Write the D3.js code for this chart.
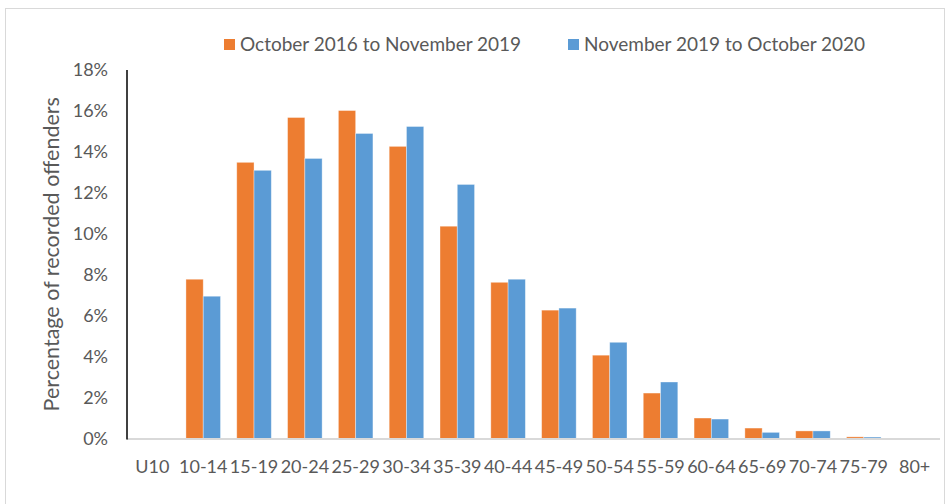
<!DOCTYPE html>
<html>
<head>
<meta charset="utf-8">
<script src="https://cdn.jsdelivr.net/npm/d3@7/dist/d3.min.js"></script>
<style>
  html, body { margin: 0; padding: 0; background: #fff; }
  svg { display: block; }
  text { font-family: "Lato", sans-serif; fill: #595959; }
</style>
</head>
<body>
<svg id="chart" width="951" height="504"></svg>
<script>
const categories = ["U10","10-14","15-19","20-24","25-29","30-34","35-39","40-44","45-49","50-54","55-59","60-64","65-69","70-74","75-79","80+"];
const seriesNames = ["October 2016 to November 2019", "November 2019 to October 2020"];
const series2016to2019 = [0, 7.78, 13.49, 15.68, 16.02, 14.27, 10.37, 7.63, 6.27, 4.07, 2.22, 1.0, 0.51, 0.37, 0.08, 0];
const series2019to2020 = [0, 6.95, 13.10, 13.68, 14.90, 15.24, 12.41, 7.78, 6.37, 4.70, 2.76, 0.95, 0.30, 0.37, 0.07, 0];
const yTicks = [0, 2, 4, 6, 8, 10, 12, 14, 16, 18];
const colors = ["#ED7D31", "#5B9BD5"];

const svg = d3.select("#chart");

// outer frame
svg.append("rect").attr("x", 5.5).attr("y", 8.5).attr("width", 939).attr("height", 500)
  .attr("fill", "none").attr("stroke", "#D9D9D9").attr("stroke-width", 1);

const mLeft = 127, mRight = 940, mTop = 70, mBottom = 438.5;

const x = d3.scaleBand().domain(categories).range([mLeft, mRight]).paddingInner(0.32).paddingOuter(0.16);
const xs = d3.scaleBand().domain([0, 1]).range([0, x.bandwidth()]);
const y = d3.scaleLinear().domain([0, 18]).range([mBottom, mTop]);

const data = categories.map((c, i) => ({ cat: c, vals: [series2016to2019[i], series2019to2020[i]] }));

const groups = svg.append("g").selectAll("g").data(data).join("g")
  .attr("transform", d => `translate(${x(d.cat)},0)`);
groups.selectAll("rect").data(d => d.vals.map((v, k) => ({ v, k }))).join("rect")
  .attr("x", d => xs(d.k))
  .attr("width", xs.bandwidth())
  .attr("y", d => y(d.v))
  .attr("height", d => mBottom - y(d.v))
  .attr("fill", d => colors[d.k])
  .attr("stroke", "#ffffff").attr("stroke-opacity", 0.45).attr("stroke-width", 0.8);

// x axis line
svg.append("line").attr("x1", mLeft).attr("x2", mRight).attr("y1", mBottom + 0.5).attr("y2", mBottom + 0.5)
  .attr("stroke", "#D9D9D9").attr("stroke-width", 2);

// x axis labels
const xAxis = d3.axisBottom(x).tickSize(0).tickPadding(0);
const gx = svg.append("g").attr("transform", `translate(0,${mBottom})`).call(xAxis);
gx.select(".domain").remove();
gx.selectAll("text").attr("dy", null).attr("y", 34).style("font-size", "18px").style("font-family", "Lato, sans-serif").attr("fill", "#595959");

// y axis
const yAxis = d3.axisLeft(y).tickValues(yTicks).tickFormat(d => d + "%").tickSize(0).tickPadding(19);
const gy = svg.append("g").attr("transform", `translate(${mLeft},0)`).call(yAxis);
gy.select(".domain").remove();
gy.selectAll("text").style("font-size", "18px").style("font-family", "Lato, sans-serif").attr("fill", "#595959");
svg.append("line").attr("x1", mLeft).attr("x2", mLeft).attr("y1", mTop).attr("y2", mBottom + 1)
  .attr("stroke", "#000").attr("stroke-width", 1.5);

// y title
svg.append("text")
  .attr("transform", `translate(59,${(mTop + mBottom) / 2}) rotate(-90)`)
  .attr("text-anchor", "middle")
  .style("font-size", "21.5px")
  .text("Percentage of recorded offenders");

// legend
const legendX = [224, 568];
const lg = svg.append("g").selectAll("g").data(seriesNames).join("g")
  .attr("transform", (d, i) => `translate(${legendX[i]},39)`);
lg.append("rect").attr("width", 11).attr("height", 11).attr("fill", (d, i) => colors[i]);
lg.append("text").attr("x", 16).attr("y", 5.5).attr("dy", "0.35em").style("font-size", "19px").text(d => d);
</script>
</body>
</html>
